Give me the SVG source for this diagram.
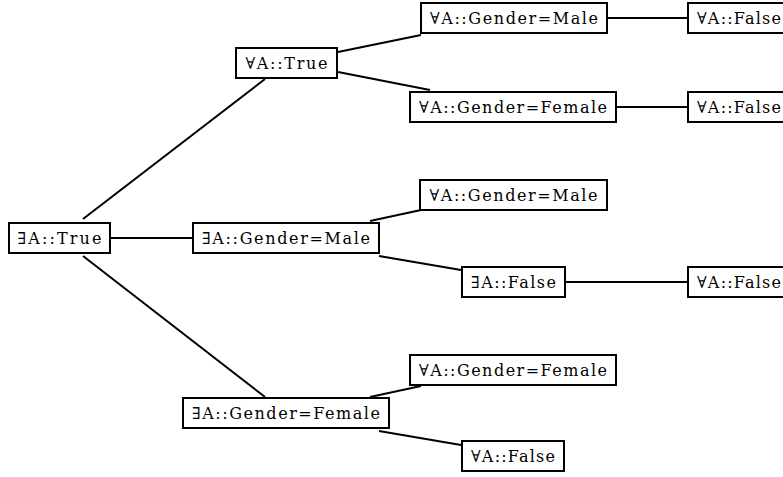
<svg xmlns="http://www.w3.org/2000/svg" width="783" height="477" viewBox="0 0 783 477">
<style>
rect{fill:#fff;stroke:#000;stroke-width:2}
text{font-family:"DejaVu Serif",serif;font-size:16px;fill:#000;text-anchor:middle}
.c line{stroke:#000;stroke-width:2}
</style>
<rect x="0" y="0" width="783" height="477" style="stroke:none"/>
<g class="c" id="connectors">
<line x1="83" y1="219" x2="265" y2="79"/>
<line x1="111" y1="238" x2="193" y2="238"/>
<line x1="83" y1="256" x2="265" y2="397"/>
<line x1="338" y1="52" x2="421" y2="35"/>
<line x1="338" y1="72" x2="430" y2="90"/>
<line x1="607" y1="18" x2="688" y2="18"/>
<line x1="616" y1="107" x2="688" y2="107"/>
<line x1="370" y1="221" x2="421" y2="210"/>
<line x1="379" y1="256" x2="461" y2="270"/>
<line x1="565" y1="282" x2="688" y2="282"/>
<line x1="370" y1="397" x2="421" y2="386"/>
<line x1="379" y1="431" x2="461" y2="445"/>
</g>
<g id="n_root"><rect x="9" y="223" width="101" height="30"/><text x="59.5" y="244" textLength="84" lengthAdjust="spacing">∃A::True</text></g>
<g id="n_allTrue"><rect x="236" y="48" width="101" height="30"/><text x="286.5" y="69" textLength="82" lengthAdjust="spacing">∀A::True</text></g>
<g id="n_allGM1"><rect x="421" y="3" width="186" height="30"/><text x="514" y="24" textLength="168" lengthAdjust="spacing">∀A::Gender=Male</text></g>
<g id="n_allGF1"><rect x="410" y="92" width="206" height="30"/><text x="513" y="113" textLength="188" lengthAdjust="spacing">∀A::Gender=Female</text></g>
<g id="n_false1"><rect x="688" y="3" width="104" height="30"/><text x="739" y="24" textLength="84" lengthAdjust="spacing">∀A::False</text></g>
<g id="n_false2"><rect x="688" y="92" width="104" height="30"/><text x="739" y="113" textLength="84" lengthAdjust="spacing">∀A::False</text></g>
<g id="n_exGM"><rect x="193" y="223" width="186" height="30"/><text x="286" y="244" textLength="168" lengthAdjust="spacing">∃A::Gender=Male</text></g>
<g id="n_allGM2"><rect x="420" y="180" width="187" height="30"/><text x="513.5" y="201" textLength="168" lengthAdjust="spacing">∀A::Gender=Male</text></g>
<g id="n_exFalse"><rect x="462" y="267" width="103" height="30"/><text x="513.5" y="288" textLength="85" lengthAdjust="spacing">∃A::False</text></g>
<g id="n_false3"><rect x="688" y="267" width="104" height="30"/><text x="739" y="288" textLength="84" lengthAdjust="spacing">∀A::False</text></g>
<g id="n_exGF"><rect x="183" y="398" width="206" height="30"/><text x="286" y="419" textLength="188" lengthAdjust="spacing">∃A::Gender=Female</text></g>
<g id="n_allGF2"><rect x="410" y="355" width="206" height="30"/><text x="513" y="376" textLength="188" lengthAdjust="spacing">∀A::Gender=Female</text></g>
<g id="n_false4"><rect x="462" y="441" width="102" height="30"/><text x="513" y="462" textLength="84" lengthAdjust="spacing">∀A::False</text></g>
</svg>
